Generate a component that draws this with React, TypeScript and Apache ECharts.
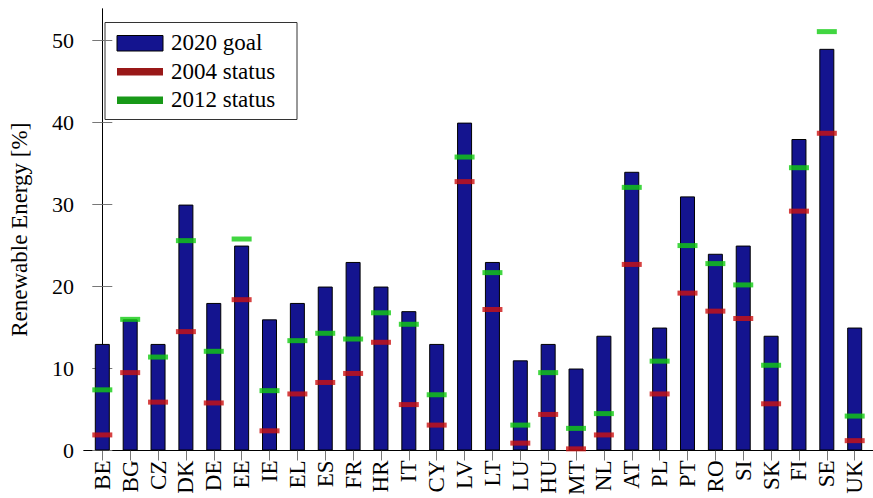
import React, { useEffect, useRef } from "react";
import * as echarts from "echarts";

const categories = ["BE","BG","CZ","DK","DE","EE","IE","EL","ES","FR","HR","IT","CY","LV","LT","LU","HU","MT","NL","AT","PL","PT","RO","SI","SK","FI","SE","UK"];
const goal2020 = [13,16,13,30,18,25,16,18,20,23,20,17,13,40,23,11,13,10,14,34,15,31,24,25,14,38,49,15];
const status2004 = [1.9,9.5,5.9,14.5,5.8,18.4,2.4,6.9,8.3,9.4,13.2,5.6,3.1,32.8,17.2,0.9,4.4,0.2,1.9,22.7,6.9,19.2,17.0,16.1,5.7,29.2,38.7,1.2];
const status2012 = [7.4,16.0,11.4,25.6,12.1,25.8,7.3,13.4,14.3,13.6,16.8,15.4,6.8,35.8,21.7,3.1,9.5,2.7,4.5,32.1,10.9,25.0,22.8,20.2,10.4,34.5,51.1,4.2];
const yTicks = [0, 10, 20, 30, 40, 50];
const seriesNames = ["2020 goal", "2004 status", "2012 status"];
const yTitle = "Renewable Energy [%]";

const FONT = "'Liberation Serif', 'Times New Roman', serif";
const BAR = "#14148f";
const RED = "#cc1111";
const GREEN = "#11cc11";
const RED_LEG = "#991818";
const GREEN_LEG = "#189918";
const TICK = "#777";

export default function App() {
  const ref = useRef<HTMLDivElement>(null);
  useEffect(() => {
    if (!ref.current) return;
    const chart = echarts.init(ref.current, null, { renderer: "svg" });
    const idx = categories.map((_, i) => i);
    const xMin = -0.657;
    const xMax = categories.length - 1 + 0.657;
    const yMax = 53.86;
    const legendText = (i: number, y: number) => ({
      type: "text",
      x: 171,
      y,
      style: { text: seriesNames[i], font: `23px ${FONT}`, fill: "#000", textVerticalAlign: "middle" },
    });
    chart.setOption({
      animation: false,
      grid: { left: 81, right: -5, top: 9, bottom: 42, containLabel: false },
      xAxis: [
        {
          type: "value", position: "bottom", min: xMin, max: xMax,
          axisLine: { show: true, lineStyle: { color: "#000", width: 1 } },
          axisTick: { show: false },
          splitLine: { show: false },
          axisLabel: {
            customValues: idx,
            formatter: (v: number) => categories[Math.round(v)] ?? "",
            rotate: 90, margin: 10, fontSize: 23, fontFamily: FONT, color: "#000",
          },
        },
        {
          type: "value", position: "top", min: xMin, max: xMax,
          axisLine: { show: true, lineStyle: { color: "#000", width: 1 } },
          axisTick: { show: true, inside: true, length: 10, customValues: idx, lineStyle: { color: TICK } },
          axisLabel: { show: false },
          splitLine: { show: false },
        },
      ],
      yAxis: [
        {
          type: "value", position: "left", min: 0, max: yMax,
          axisLine: { show: true, lineStyle: { color: "#000", width: 1 } },
          axisTick: { show: true, inside: true, length: 10, customValues: yTicks, lineStyle: { color: TICK } },
          axisLabel: { customValues: yTicks, margin: 10, fontSize: 22, fontFamily: FONT, color: "#000" },
          splitLine: { show: false },
          name: yTitle, nameLocation: "middle", nameGap: 53,
          nameTextStyle: { fontSize: 23, fontFamily: FONT, color: "#000" },
        },
        {
          type: "value", position: "right", min: 0, max: yMax,
          axisLine: { show: true, lineStyle: { color: "#000", width: 1 } },
          axisTick: { show: true, inside: true, length: 10, customValues: yTicks, lineStyle: { color: TICK } },
          axisLabel: { show: false },
          splitLine: { show: false },
        },
      ],
      series: [
        {
          name: seriesNames[0], type: "bar", xAxisIndex: 0, yAxisIndex: 0,
          barWidth: 15,
          itemStyle: { color: BAR, borderColor: "#000", borderWidth: 1 },
          data: goal2020.map((v, i) => [i, v]),
        },
        {
          name: seriesNames[1], type: "scatter", xAxisIndex: 0, yAxisIndex: 0,
          symbol: "rect", symbolSize: [20, 5], itemStyle: { color: RED }, z: 5,
          data: status2004.map((v, i) => [i, v]),
        },
        {
          name: seriesNames[2], type: "scatter", xAxisIndex: 0, yAxisIndex: 0,
          symbol: "rect", symbolSize: [20, 5], itemStyle: { color: GREEN }, z: 5,
          data: status2012.map((v, i) => [i, v]),
        },
      ],
      graphic: [
        {
          type: "group", z: 100,
          children: [
            { type: "rect", shape: { x: 105, y: 22.5, width: 192, height: 97 }, style: { fill: "#fff", stroke: "#333", lineWidth: 1 } },
            { type: "rect", shape: { x: 117, y: 35.5, width: 46, height: 15.5 }, style: { fill: BAR, stroke: "#000", lineWidth: 1 } },
            { type: "rect", shape: { x: 117, y: 68, width: 46, height: 7.5 }, style: { fill: RED_LEG } },
            { type: "rect", shape: { x: 117, y: 96.5, width: 46, height: 7.5 }, style: { fill: GREEN_LEG } },
            legendText(0, 42),
            legendText(1, 71),
            legendText(2, 99.5),
          ],
        },
      ],
    });
    return () => chart.dispose();
  }, []);
  return (
    <div
      ref={ref}
      style={{ position: "absolute", left: 0, top: 0, width: 873, height: 498, background: "#fff" }}
    />
  );
}
